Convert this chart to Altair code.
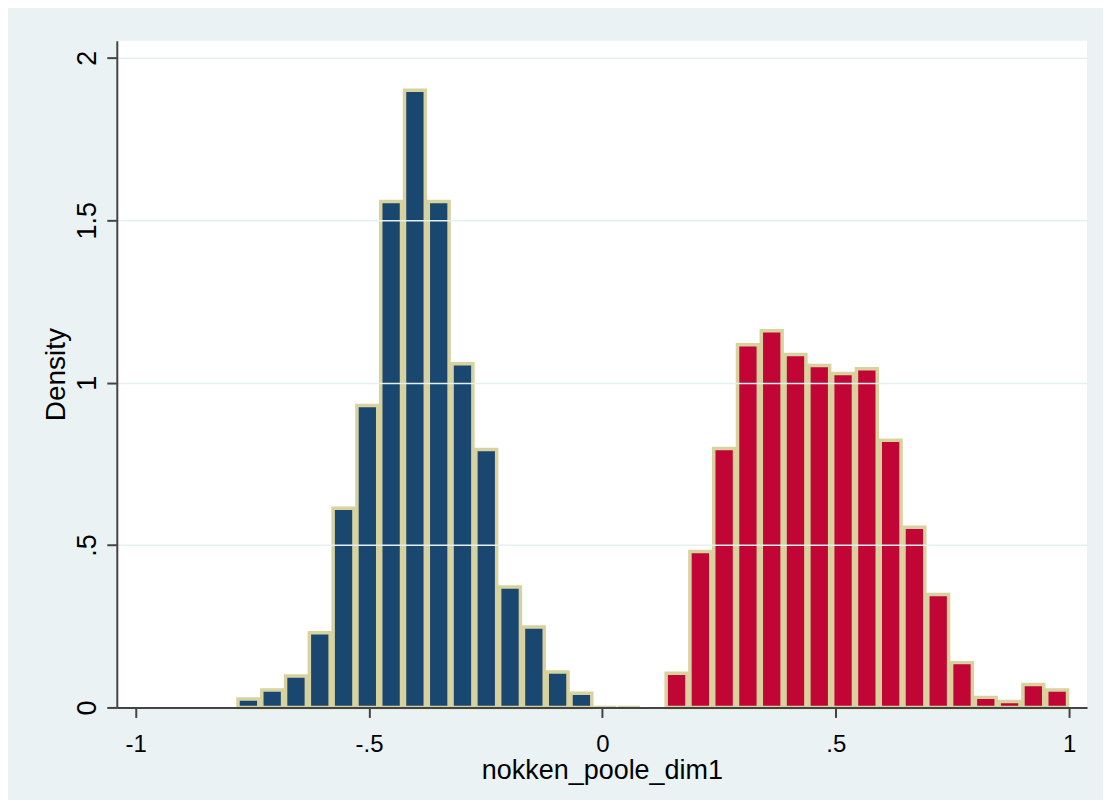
import altair as alt
import pandas as pd

# ---- data ----
bin_min = -0.784
bin_width = 0.05097
blue_density = [0.026, 0.054, 0.097, 0.23, 0.613, 0.93, 1.558, 1.90, 1.558,
                1.058, 0.794, 0.371, 0.248, 0.109, 0.044, 0.003]
blue_first_bin = 0
red_density = [0.003, 0.0, 0.105, 0.48, 0.797, 1.117, 1.16, 1.087, 1.053, 1.028,
               1.043, 0.823, 0.555, 0.348, 0.138, 0.031, 0.018, 0.071, 0.054]
red_first_bin = 16
x_ticks = [-1, -0.5, 0, 0.5, 1]
y_ticks = [0, 0.5, 1, 1.5, 2]
x_title = "nokken_poole_dim1"
y_title = "Density"

rows = []
for i, d in enumerate(blue_density):
    k = blue_first_bin + i
    rows.append({"start": bin_min + k * bin_width, "end": bin_min + (k + 1) * bin_width,
                 "density": d, "group": "blue"})
for i, d in enumerate(red_density):
    if d <= 0:
        continue
    k = red_first_bin + i
    rows.append({"start": bin_min + k * bin_width, "end": bin_min + (k + 1) * bin_width,
                 "density": d, "group": "red"})
df = pd.DataFrame(rows)

FONT = "Liberation Sans"
BG = "#EAF2F3"

label_expr = "replace(replace(format(datum.value, '.1~f'), '\u2212', '-'), '0.', '.')"

bars = alt.Chart(df).mark_bar(
    stroke="#D7D29E", xOffset=1.5, x2Offset=-1.5
).encode(
    x=alt.X("start:Q",
            scale=alt.Scale(domain=[-1.0405, 1.0385], nice=False, zero=False),
            axis=alt.Axis(values=x_ticks, labelExpr=label_expr, title=x_title,
                          grid=False, tickSize=10, tickWidth=2, tickColor="#444",
                          domainColor="#444", domainWidth=2,
                          labelFont=FONT, labelFontSize=24, labelColor="#000",
                          labelBaseline="alphabetic", labelPadding=34,
                          labelFlush=False, labelOverlap=False,
                          titleFont=FONT, titleFontSize=27, titleFontWeight="normal",
                          titleColor="#000", titleBaseline="alphabetic", titleY=71,
                          zindex=1)),
    x2="end:Q",
    y=alt.Y("density:Q",
            scale=alt.Scale(domain=[0, 2.053], nice=False),
            axis=alt.Axis(values=y_ticks, labelExpr=label_expr, title=y_title,
                          grid=True, gridColor="#E6EFF1", gridWidth=1.5,
                          tickSize=10, tickWidth=2, tickColor="#444",
                          domainColor="#444", domainWidth=2,
                          labelFont=FONT, labelFontSize=27, labelColor="#000",
                          labelAngle=270, labelAlign="center", labelBaseline="alphabetic",
                          labelPadding=11, labelFlush=False, labelOverlap=False,
                          titleFont=FONT, titleFontSize=28, titleFontWeight="normal",
                          titleColor="#000", titleAngle=270, titleAlign="center",
                          titleBaseline="alphabetic", titleX=-52, titleY=334,
                          zindex=1)),
    y2=alt.datum(0),
    color=alt.Color("group:N",
                    scale=alt.Scale(domain=["blue", "red"], range=["#1A476F", "#C10534"]),
                    legend=None),
    strokeWidth=alt.condition(alt.datum.density < 0.01, alt.value(1.5), alt.value(3.5)),
)

chart = bars.properties(
    width=972, height=668,
    background=BG,
    padding={"left": 109, "top": 32, "right": 16, "bottom": 92},
    autosize=alt.AutoSizeParams(type="none"),
).configure_view(fill="white", stroke=None)

chart.save("out.html", embed_options={"renderer": "svg", "actions": False})
